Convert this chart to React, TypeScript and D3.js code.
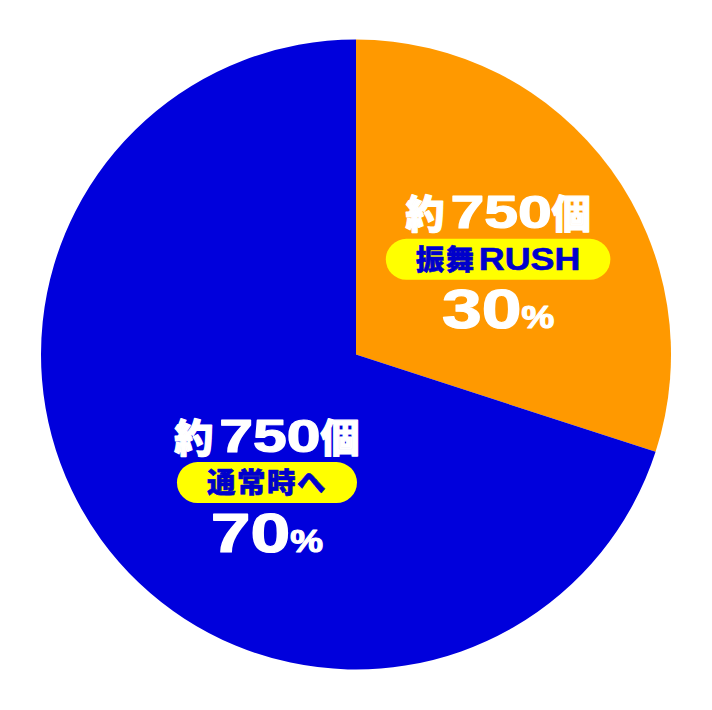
import * as d3 from "d3";
import React, { useEffect, useRef } from "react";

// slices, clockwise from 12 o'clock
const segments = ["振舞RUSH", "通常時へ"];
const shares = [30, 70];
const amounts = ["約750個", "約750個"];
const sliceColors = ["#ff9900", "#0000dc"];

const width = 712;
const height = 710;
const center = { x: 356, y: 354.5 };
const radius = 315;

// where each label block sits (angle in degrees from 12 o'clock, distance from centre)
const labelAnchors = [
  { angle: 56.2, r: 171 },
  { angle: 214.8, r: 156 },
];

const LATIN = "'Liberation Sans', Arial, sans-serif";
const CJK = "'Noto Sans CJK JP', 'Noto Sans CJK SC', sans-serif";

interface RunStyle {
  latinSize: number[];
  latinStretch: number[];
  cjkSize: number;
  cjkSpacing: number;
  latinDx: number;
}

const isAscii = (s: string) => /^[\x00-\x7F]+$/.test(s);

function addRuns(
  text: d3.Selection<SVGTextElement, unknown, null, undefined>,
  str: string,
  style: RunStyle
) {
  // "30%" -> ["30", "%"], "約750個" -> ["約", "750", "個"]
  const runs = str.match(/[0-9A-Za-z]+|%|[^\x00-\x7F]+/g) || [];
  let latinIndex = 0;
  runs.forEach((run, k) => {
    const t = text.append("tspan").text(run);
    if (isAscii(run)) {
      const li = Math.min(latinIndex, style.latinSize.length - 1);
      t.attr("font-family", LATIN)
        .attr("font-size", style.latinSize[li])
        .attr("font-weight", 700);
      if (k > 0 && !isAscii(runs[k - 1])) t.attr("dx", style.latinDx);
      const len = (t.node() as SVGTSpanElement).getComputedTextLength();
      t.attr("textLength", len * style.latinStretch[li])
        .attr("lengthAdjust", "spacingAndGlyphs");
      latinIndex++;
    } else {
      t.attr("font-family", CJK)
        .attr("font-size", style.cjkSize)
        .attr("font-weight", 900)
        .attr("letter-spacing", style.cjkSpacing);
    }
  });
}

export default function App() {
  const svgRef = useRef<SVGSVGElement>(null);

  useEffect(() => {
    const svg = d3.select(svgRef.current);
    svg.selectAll("*").remove();

    const g = svg
      .append("g")
      .attr("transform", `translate(${center.x},${center.y})`);

    const pie = d3.pie<number>().sort(null).value((d) => d);
    const arcs = pie(shares);
    const arc = d3
      .arc<d3.PieArcDatum<number>>()
      .innerRadius(0)
      .outerRadius(radius);

    g.selectAll("path.slice")
      .data(arcs)
      .join("path")
      .attr("class", "slice")
      .attr("d", arc)
      .attr("fill", (_d, i) => sliceColors[i]);

    arcs.forEach((_d, i) => {
      const a = labelAnchors[i];
      const [x, y] = d3.pointRadial((a.angle * Math.PI) / 180, a.r);
      const lg = g.append("g").attr("transform", `translate(${x},${y})`);

      const pill = lg.append("rect").attr("fill", "#ffff00");

      const amount = lg
        .append("text")
        .attr("y", -31)
        .attr("text-anchor", "middle")
        .attr("fill", "#ffffff")
        .attr("stroke", "#ffffff")
        .attr("stroke-width", 1.2)
        .attr("stroke-linejoin", "round");
      addRuns(amount, amounts[i], {
        latinSize: [46],
        latinStretch: [1.32],
        cjkSize: 39,
        cjkSpacing: 0,
        latinDx: 6,
      });

      const name = lg
        .append("text")
        .attr("y", 10.5)
        .attr("text-anchor", "middle")
        .attr("fill", "#0000cc")
        .attr("stroke", "#0000cc")
        .attr("stroke-width", 0.6)
        .attr("stroke-linejoin", "round");
      addRuns(name, segments[i], {
        latinSize: [32],
        latinStretch: [1.12],
        cjkSize: 28.5,
        cjkSpacing: 1.5,
        latinDx: 3,
      });

      const pct = lg
        .append("text")
        .attr("y", 69)
        .attr("text-anchor", "middle")
        .attr("fill", "#ffffff")
        .attr("stroke", "#ffffff")
        .attr("stroke-width", 1.2)
        .attr("stroke-linejoin", "round");
      addRuns(pct, `${shares[i]}%`, {
        latinSize: [55, 32],
        latinStretch: [1.3, 1.15],
        cjkSize: 32,
        cjkSpacing: 0,
        latinDx: 0,
      });

      const bb = (name.node() as SVGTextElement).getBBox();
      const pw = bb.width + 60;
      const ph = 41;
      pill
        .attr("x", bb.x + bb.width / 2 - pw / 2)
        .attr("y", -ph / 2)
        .attr("width", pw)
        .attr("height", ph)
        .attr("rx", ph / 2);
    });
  }, []);

  return (
    <svg
      ref={svgRef}
      width={width}
      height={height}
      style={{ position: "absolute", left: 0, top: 0, background: "#ffffff" }}
    />
  );
}
